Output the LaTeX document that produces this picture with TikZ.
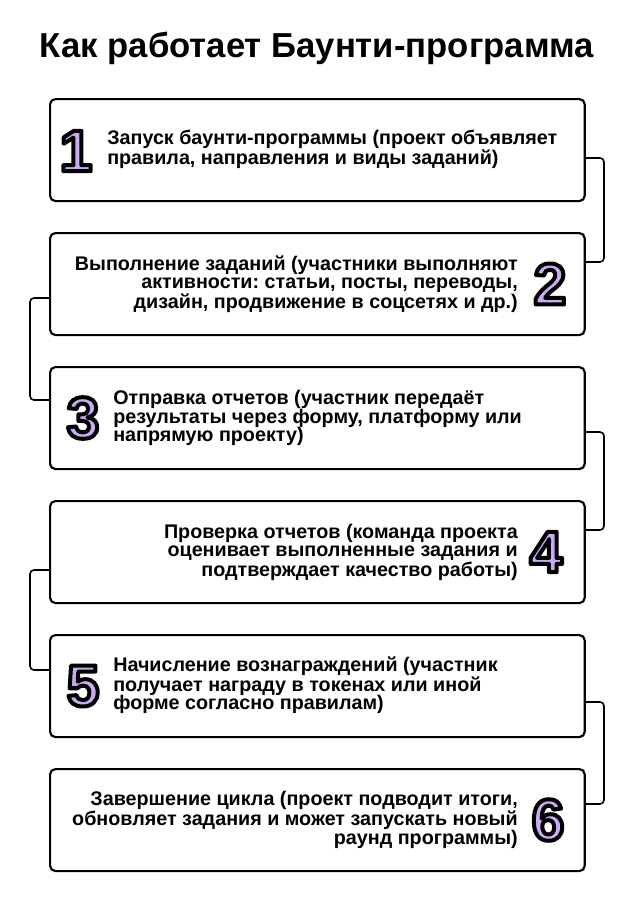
\documentclass[tikz,border=0pt]{standalone}
\usepackage{fontspec}
\setmainfont{Liberation Sans}
\usetikzlibrary{positioning}
\definecolor{numfill}{RGB}{200,170,245}
\newcommand{\bignum}[1]{{\color{numfill}\special{pdf:code 0 0 0 RG 2 Tr 3 w 1 j}#1\special{pdf:code 0 Tr}}}
\tikzset{
  stepbox/.style={draw, line width=1.6pt, rounded corners=4pt, minimum width=401pt, minimum height=76.5pt, anchor=north west},
  numtxt/.style={font=\fontsize{44}{44}\selectfont\bfseries, inner sep=0pt},
  bodytxt/.style={font=\fontsize{14.8}{13.8}\selectfont\bfseries\frenchspacing, inner sep=0pt},
  link/.style={line width=1.2pt, rounded corners=3pt}
}
\begin{document}
\begin{tikzpicture}[x=0.75pt,y=0.75pt,yscale=-1]
\useasboundingbox (0,0) rectangle (634,900);

% Title
\node[font=\fontsize{26}{28}\selectfont\bfseries] (title) at (317,48) {Как работает Баунти-программа};

% Boxes
\foreach \i/\y in {1/98,2/232,3/366,4/500,5/634,6/768}
  \node[stepbox] (b\i) at (49,\y) {};

% Numbers
\node[numtxt] (n1) at (76,151) {\bignum{1}};
\node[numtxt] (n2) at (550,284) {\bignum{2}};
\node[numtxt] (n3) at (83,418) {\bignum{3}};
\node[numtxt] (n4) at (546,552) {\bignum{4}};
\node[numtxt] (n5) at (83,686) {\bignum{5}};
\node[numtxt] (n6) at (548,820) {\bignum{6}};

% Texts
\node[bodytxt, align=left, anchor=west] (t1) at (107,149) {Запуск баунти-программы (проект объявляет\\правила, направления и виды заданий)};
\node[bodytxt, align=right, anchor=east] (t2) at (518,284) {Выполнение заданий (участники выполняют\\активности: статьи, посты, переводы,\\дизайн, продвижение в соцсетях и др.)};
\node[bodytxt, align=left, anchor=west] (t3) at (113,418) {Отправка отчетов (участник передаёт\\результаты через форму, платформу или\\напрямую проекту)};
\node[bodytxt, align=right, anchor=east] (t4) at (518,552) {Проверка отчетов (команда проекта\\оценивает выполненные задания и\\подтверждает качество работы)};
\node[bodytxt, align=left, anchor=west] (t5) at (113,685) {Начисление вознаграждений (участник\\получает награду в токенах или иной\\форме согласно правилам)};
\node[bodytxt, align=right, anchor=east] (t6) at (518,820) {Завершение цикла (проект подводит итоги,\\обновляет задания и может запускать новый\\раунд программы)};

% Link end points
\foreach \i/\a/\b in {1/158/262,3/432/530,5/702/804}{
  \coordinate (r\i) at (584,\a);
  \coordinate (q\i) at (584,\b);
}
\foreach \i/\a/\b in {2/298/400,4/570/670}{
  \coordinate (r\i) at (49,\a);
  \coordinate (q\i) at (49,\b);
}

% Links
\draw[link] (r1) -- ++(20,0) |- (q1);
\draw[link] (r2) -- ++(-19,0) |- (q2);
\draw[link] (r3) -- ++(20,0) |- (q3);
\draw[link] (r4) -- ++(-19,0) |- (q4);
\draw[link] (r5) -- ++(20,0) |- (q5);
\end{tikzpicture}
\end{document}
